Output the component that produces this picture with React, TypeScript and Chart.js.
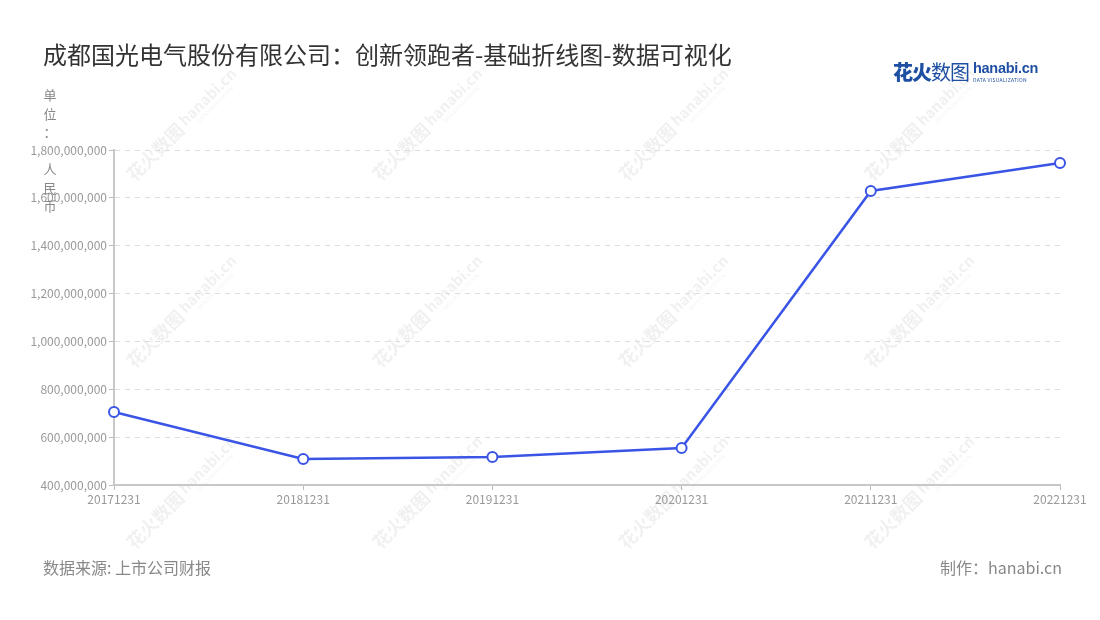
import React, { useEffect, useRef } from "react";
import { Chart, registerables } from "chart.js";

Chart.register(...registerables);

const categories = ["20171231", "20181231", "20191231", "20201231", "20211231", "20221231"];
const revenue = [705000000, 509000000, 517000000, 555000000, 1629000000, 1746000000];
const yMin = 400000000;
const yMax = 1800000000;
const yStep = 200000000;

const titleText = "成都国光电气股份有限公司：创新领跑者-基础折线图-数据可视化";
const unitChars = ["单", "位", "：", "", "人", "民", "币"];
const sourceText = "数据来源: 上市公司财报";
const makerText = "制作：hanabi.cn";

const FONT = '"Noto Sans CJK SC", "Noto Sans", sans-serif';

const watermarkPlugin = {
  id: "watermark",
  beforeDraw(chart: any) {
    const ctx = chart.ctx;
    const xs = [182, 428, 674, 920];
    const ys = [125, 312, 493];
    ctx.save();
    ctx.fillStyle = "rgba(0,0,0,0.06)";
    ctx.textBaseline = "middle";
    ctx.textAlign = "center";
    for (const x of xs) {
      for (const y of ys) {
        ctx.save();
        ctx.translate(x, y);
        ctx.rotate(-Math.PI / 4);
        ctx.font = `bold 18px ${FONT}`;
        ctx.fillText("花火数图", -38, 0);
        ctx.font = `bold 15px ${FONT}`;
        ctx.fillText("hanabi.cn", 38, -2);
        ctx.font = `5px ${FONT}`;
        ctx.fillText("DATA VISUALIZATION", 38, 9);
        ctx.restore();
      }
    }
    ctx.restore();
  },
};

export default function App() {
  const canvasRef = useRef<HTMLCanvasElement | null>(null);

  useEffect(() => {
    document.body.style.margin = "0";
    const canvas = canvasRef.current;
    if (!canvas) return;
    const chart = new Chart(canvas, {
      type: "line",
      data: {
        labels: categories,
        datasets: [
          {
            data: revenue,
            borderColor: "#3a55e6",
            borderWidth: 2.5,
            tension: 0,
            pointRadius: 5,
            pointHoverRadius: 5,
            pointBorderWidth: 2,
            pointBackgroundColor: "#ffffff",
            pointBorderColor: "#3a55e6",
            fill: false,
          },
        ],
      },
      options: {
        animation: false,
        responsive: false,
        maintainAspectRatio: false,
        layout: { padding: { top: 150, left: 0, right: 40, bottom: 0 } },
        plugins: {
          legend: { display: false },
          tooltip: { enabled: false },
          title: { display: false },
        },
        scales: {
          x: {
            type: "category",
            offset: false,
            afterFit(scale: any) {
              scale.height = 135;
            },
            grid: {
              display: true,
              drawOnChartArea: false,
              drawTicks: true,
              tickLength: 5,
              tickColor: "#bbbbbb",
              tickWidth: 1,
            },
            border: { display: true, color: "#c8c8c8", width: 2 },
            ticks: {
              color: "#999999",
              font: { size: 12, family: FONT },
              padding: 2,
              maxRotation: 0,
              autoSkip: false,
            },
          },
          y: {
            min: yMin,
            max: yMax,
            afterFit(scale: any) {
              scale.width = 114;
            },
            grid: {
              display: true,
              color: "#dddddd",
              lineWidth: 1,
              drawTicks: true,
              tickLength: 5,
              tickColor: "#bbbbbb",
              tickWidth: 1,
              tickBorderDash: [],
            },
            border: { display: true, color: "#c8c8c8", width: 2, dash: [5, 5] },
            ticks: {
              stepSize: yStep,
              color: "#999999",
              font: { size: 12, family: FONT },
              padding: 2,
              callback: (v: any) => Number(v).toLocaleString("en-US"),
            },
          },
        },
      },
      plugins: [watermarkPlugin],
    } as any);
    return () => chart.destroy();
  }, []);

  return (
    <div style={{ position: "relative", width: 1100, height: 620, background: "#fff", overflow: "hidden", fontFamily: FONT }}>
      <canvas ref={canvasRef} width={1100} height={620} style={{ position: "absolute", left: 0, top: 0, width: 1100, height: 620 }} />
      <div style={{ position: "absolute", left: 43, top: 37, fontSize: 24, color: "#333", lineHeight: "34px", whiteSpace: "nowrap" }}>
        {titleText}
      </div>
      <div style={{ position: "absolute", left: 893, top: 58, whiteSpace: "nowrap", display: "flex", alignItems: "center" }}>
        <span style={{ fontSize: 20, fontWeight: 900, color: "#1f4fa3", lineHeight: "28px", letterSpacing: -1 }}>花火</span>
        <span style={{ fontSize: 20, fontWeight: 400, color: "#1f4fa3", lineHeight: "28px", letterSpacing: -1 }}>数图</span>
        <span style={{ display: "inline-block", marginLeft: 4, position: "relative", top: -1 }}>
          <span style={{ display: "block", fontSize: 14.5, fontWeight: 700, color: "#1f4fa3", lineHeight: "16px", fontFamily: '"Liberation Sans", sans-serif', letterSpacing: -0.3 }}>hanabi.cn</span>
          <span style={{ display: "block", fontSize: 5, color: "#1f4fa3", lineHeight: "7px", letterSpacing: 0.3 }}>DATA VISUALIZATION</span>
        </span>
      </div>
      <div style={{ position: "absolute", left: 42, top: 86, width: 16, fontSize: 13, color: "#888", lineHeight: "18.5px", textAlign: "center" }}>
        {unitChars.map((c, i) => (
          <div key={i} style={{ height: 18.5 }}>{c}</div>
        ))}
      </div>
      <div style={{ position: "absolute", left: 43, top: 555, fontSize: 16, color: "#888", lineHeight: "24px", whiteSpace: "nowrap" }}>
        {sourceText}
      </div>
      <div style={{ position: "absolute", right: 38, top: 555, fontSize: 16, color: "#888", lineHeight: "24px", whiteSpace: "nowrap" }}>
        {makerText}
      </div>
    </div>
  );
}
